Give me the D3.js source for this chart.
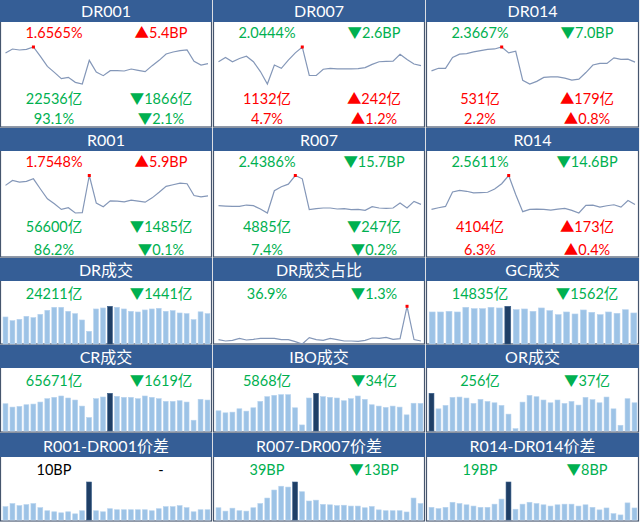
<!DOCTYPE html>
<html><head><meta charset="utf-8">
<script src="https://cdn.jsdelivr.net/npm/d3@7"></script>
<style>
html,body{margin:0;padding:0;background:#fff;}
svg{display:block;}
text{font-family:Lato,"Noto Sans CJK SC","DejaVu Sans",sans-serif;}
</style></head><body><svg id="c" width="640" height="522"></svg>
<script>
// ---- data ----
const dr001 = [1.785,1.833,1.821,1.829,1.857,1.745,1.625,1.553,1.477,1.493,1.433,1.413,1.697,1.557,1.513,1.573,1.573,1.569,1.593,1.577,1.561,1.633,1.697,1.773,1.797,1.813,1.821,1.685,1.641,1.6565];
const dr007 = [2.116,2.194,2.116,2.176,2.218,2.116,1.936,1.708,2.056,1.996,2.146,2.278,2.386,1.864,1.864,1.978,1.996,1.984,1.984,1.984,1.990,2.008,2.068,2.116,2.122,2.128,2.254,2.158,2.074,2.0444];
const dr014 = [2.151,2.215,2.215,2.479,2.559,2.575,2.615,2.647,2.679,2.687,2.735,2.591,2.631,1.919,1.831,1.895,1.991,2.007,2.007,1.975,1.927,1.951,2.111,2.295,2.335,2.335,2.471,2.431,2.439,2.3667];
const r001 = [1.915,1.990,1.965,1.975,2.015,1.860,1.710,1.635,1.550,1.575,1.495,1.500,2.065,1.645,1.590,1.680,1.675,1.665,1.690,1.675,1.660,1.725,1.810,1.900,1.925,1.950,1.940,1.760,1.740,1.7548];
const r007 = [2.407,2.399,2.391,2.391,2.423,2.407,2.327,2.231,2.767,2.863,2.927,3.135,3.055,2.311,2.335,2.351,2.351,2.327,2.335,2.311,2.319,2.295,2.383,2.351,2.343,2.351,2.471,2.351,2.511,2.4386];
const r014 = [2.441,2.481,2.513,2.865,2.905,2.881,2.841,2.849,2.857,2.937,3.065,3.265,2.801,2.385,2.441,2.449,2.441,2.425,2.449,2.465,2.417,2.353,2.537,2.545,2.497,2.529,2.553,2.497,2.657,2.5611];
const drShare = [38.1,36.9,37.5,39.3,37.8,38.4,39.3,39.3,39.3,38.1,38.1,36.3,34.2,39.9,38.1,37.5,39.3,38.1,36.9,36.9,36.6,37.5,39.6,39.3,40.2,38.4,39.0,68.1,38.2,36.9];
const drVol = [21546,18620,19684,22078,21014,23674,26866,29260,29260,26068,24206,19152,10108,27930,28728,30058,29260,27930,26068,25536,27132,27930,28462,26068,26600,24738,24206,19418,25652,24211];
const gcVol = [15312,15312,15631,15312,17545,16907,16907,17545,17226,18024,16429,16748,15631,17226,15950,14036,15312,14355,16269,15153,14036,15312,14674,16397,14835];
const crVol = [57834,50694,52122,55692,57120,61404,68544,71400,74256,69972,65688,52836,28560,68544,72114,79968,73542,71400,71400,68544,74256,71400,68544,62832,62832,64260,61404,22848,67290,65671];
const iboVol = [4294,3865,4008,4724,4222,4938,6298,7300,7586,7729,7729,4938,1288,7014,8016,7300,7157,7014,6441,6871,7443,6728,5582,5296,5010,5296,5081,3435,5902,5868];
const orVol = [342,201,232,305,308,299,250,287,268,256,232,153,21,262,323,311,281,256,281,250,268,235,305,284,256,308,201,52,293,256];
const spr001 = [13,16,14,15,16,12,9,8,7,8,6,9,37,9,8,11,10,10,10,10,10,9,11,13,13,14,12,8,10,10];
const spr007 = [29,21,28,22,21,29,39,52,71,80,78,90,67,45,47,37,36,34,35,33,33,29,32,24,22,22,22,19,52,39];
const spr014 = [20,18,20,28,26,24,22,20,20,25,33,60,17,25,28,26,24,22,24,25,25,22,24,20,16,19,10,8,27,19];

const titles = ["DR001","DR007","DR014","R001","R007","R014","DR成交","DR成交占比","GC成交","CR成交","IBO成交","OR成交","R001-DR001价差","R007-DR007价差","R014-DR014价差"];
// label rows: [leftText, leftColour, rightText, rightColour]
const labels = [
  [["1.6565%","r","▲5.4BP","r"],["22536亿","g","▼1866亿","g"],["93.1%","g","▼2.1%","g"]],
  [["2.0444%","g","▼2.6BP","g"],["1132亿","r","▲242亿","r"],["4.7%","r","▲1.2%","r"]],
  [["2.3667%","g","▼7.0BP","g"],["531亿","r","▲179亿","r"],["2.2%","r","▲0.8%","r"]],
  [["1.7548%","r","▲5.9BP","r"],["56600亿","g","▼1485亿","g"],["86.2%","g","▼0.1%","g"]],
  [["2.4386%","g","▼15.7BP","g"],["4885亿","g","▼247亿","g"],["7.4%","g","▼0.2%","g"]],
  [["2.5611%","g","▼14.6BP","g"],["4104亿","r","▲173亿","r"],["6.3%","r","▲0.4%","r"]],
  [["24211亿","g","▼1441亿","g"]],
  [["36.9%","g","▼1.3%","g"]],
  [["14835亿","g","▼1562亿","g"]],
  [["65671亿","g","▼1619亿","g"]],
  [["5868亿","g","▼34亿","g"]],
  [["256亿","g","▼37亿","g"]],
  [["10BP","k","-","k"]],
  [["39BP","g","▼13BP","g"]],
  [["19BP","g","▼8BP","g"]]
];
const series = [dr001,dr007,dr014,r001,r007,r014,drVol,drShare,gcVol,crVol,iboVol,orVol,spr001,spr007,spr014];
const kinds = ["line","line","line","line","line","line","bar","line","bar","bar","bar","bar","bar","bar","bar"];

// ---- layout ----
const colors = {r:"#FF0000", g:"#00B050", k:"#000000"};
const colX = [0,213,426], colW = [213,213,214];
const rowY = [0,128,258,345,433], rowH = [128,130,87,88,89], headH = [22,23,23,23,24];
const textY = [[38,104,124],[39,104,127],[41],[41],[42]];
const plotTop = [47,47.5,48.3,48.3,49], plotBot = [84,85,86,86,87];

const svg = d3.select("#c");
series.forEach((data,i)=>{
  const col=i%3,row=Math.floor(i/3);
  const w=colW[col],h=rowH[row],hh=headH[row];
  const g=svg.append("g").attr("transform",`translate(${colX[col]},${rowY[row]})`);
  g.append("rect").attr("x",0.5).attr("y",0.5).attr("width",w-2).attr("height",h-1.5)
    .attr("fill","#fff").attr("stroke","#46566e").attr("stroke-width",1.2);
  g.append("rect").attr("x",0).attr("y",0).attr("width",w-1).attr("height",hh).attr("fill","#355E96");
  g.append("text").attr("x",(w-1)/2).attr("y",hh-5).attr("text-anchor","middle")
    .attr("fill","#fff").attr("font-size",16).text(titles[i]);
  labels[i].forEach((l,k)=>{
    const y=textY[row][k];
    g.append("text").attr("x",54).attr("y",y).attr("text-anchor","middle").attr("font-size",14.5)
      .attr("fill",colors[l[1]]).text(l[0]);
    g.append("text").attr("x",161).attr("y",y).attr("text-anchor","middle").attr("font-size",14.5)
      .attr("fill",colors[l[3]]).text(l[2]);
  });
  const imax=d3.maxIndex(data);
  if(kinds[i]==="line"){
    const x=d3.scalePoint().domain(d3.range(data.length)).range([5.5,w-5]);
    const y=d3.scaleLinear().domain(d3.extent(data)).range([plotBot[row],plotTop[row]]);
    g.append("path").datum(data).attr("fill","none").attr("stroke","#8497B8").attr("stroke-width",1.2)
      .attr("d",d3.line().x((d,j)=>x(j)).y(d=>y(d)));
    g.append("rect").attr("x",x(imax)-1.5).attr("y",y(data[imax])-1.5).attr("width",3).attr("height",3).attr("fill","#FF0000");
  } else {
    const x=d3.scaleBand().domain(d3.range(data.length)).range([2,w-2]).paddingInner(0.3).paddingOuter(0.15);
    const y=d3.scaleLinear().domain([0,d3.max(data)]).range([plotBot[row],plotTop[row]]);
    g.selectAll("rect.b").data(data).join("rect").attr("class","b")
      .attr("x",(d,j)=>x(j)).attr("width",x.bandwidth())
      .attr("y",d=>y(d)).attr("height",d=>plotBot[row]-y(d))
      .attr("fill",(d,j)=>j===imax?"#1F3F66":"#9DC3E6")
      .attr("stroke",(d,j)=>j===imax?"#3b5f8a":"#b7d3ee").attr("stroke-width",0.6);
  }
});
</script></body></html>
